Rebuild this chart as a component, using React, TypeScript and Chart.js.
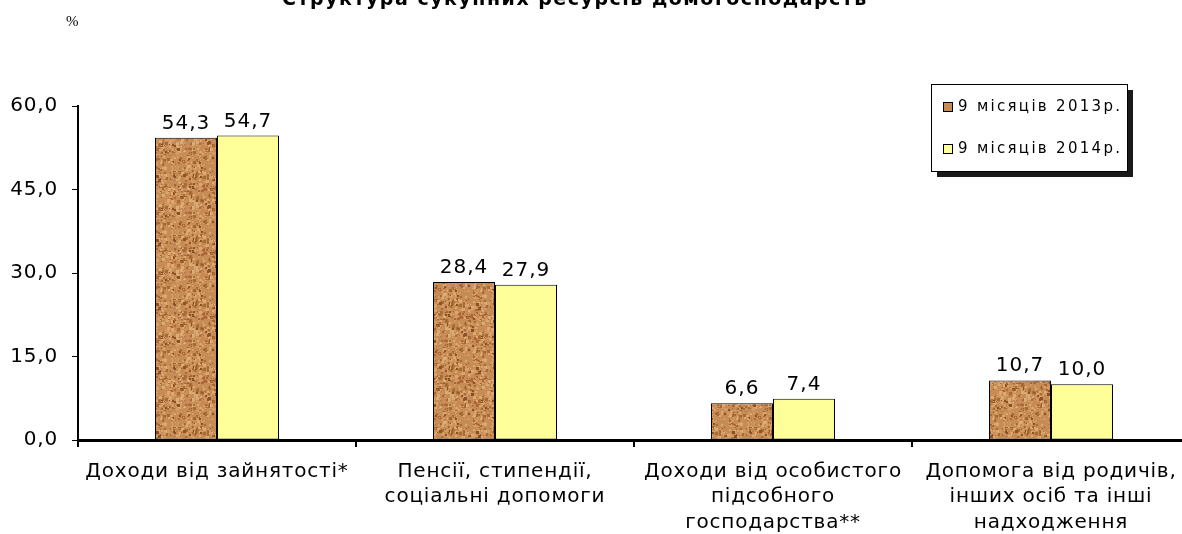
import React, { useEffect, useRef } from 'react';
import { Chart, registerables } from 'chart.js';

Chart.register(...registerables);

const categories: string[][] = [
  ['Доходи від зайнятості*'],
  ['Пенсії, стипендії,', 'соціальні допомоги'],
  ['Доходи від особистого', 'підсобного', 'господарства**'],
  ['Допомога від родичів,', 'інших осіб та інші', 'надходження'],
];
const series2013 = [54.3, 28.4, 6.6, 10.7];
const series2014 = [54.7, 27.9, 7.4, 10.0];
const seriesLabels = ['9 місяців 2013р.', '9 місяців 2014р.'];
const yTicks = [0, 15, 30, 45, 60];
const titleText = 'Структура сукупних ресурсів домогосподарств';
const unitText = '%';

const FONT = '"DejaVu Sans", Verdana, sans-serif';
const fmt = (v: number) => v.toFixed(1).replace('.', ',');

function makeTexture(): CanvasPattern | string {
  const c = document.createElement('canvas');
  c.width = 64;
  c.height = 64;
  const g = c.getContext('2d');
  if (!g) return '#C68C55';
  g.fillStyle = '#C68C55';
  g.fillRect(0, 0, 64, 64);
  let s = 12345;
  const rnd = () => {
    s = (s * 1103515245 + 12345) & 0x7fffffff;
    return s / 0x7fffffff;
  };
  for (let i = 0; i < 700; i++) {
    const x = Math.floor(rnd() * 64);
    const y = Math.floor(rnd() * 64);
    const r = rnd();
    if (r < 0.3) g.fillStyle = '#A96937';
    else if (r < 0.42) g.fillStyle = '#8C5026';
    else if (r < 0.75) g.fillStyle = '#DDAA74';
    else g.fillStyle = '#D49A62';
    const sz = rnd() < 0.4 ? 1 : rnd() < 0.7 ? 2 : 3;
    g.fillRect(x, y, sz, sz);
  }
  const p = g.createPattern(c, 'repeat');
  return p || '#C68C55';
}

const spacingPlugin = {
  id: 'spacing',
  beforeDraw(chart: any) {
    (chart.ctx as any).letterSpacing = '0.8px';
  },
};

const overlayPlugin = {
  id: 'overlay',
  afterDatasetsDraw(chart: any) {
    const ctx = chart.ctx as any;
    ctx.save();
    ctx.letterSpacing = '1px';
    ctx.fillStyle = '#000';
    ctx.font = `20px ${FONT}`;
    ctx.textAlign = 'center';
    ctx.textBaseline = 'alphabetic';
    chart.data.datasets.forEach((ds: any, di: number) => {
      const meta = chart.getDatasetMeta(di);
      meta.data.forEach((el: any, i: number) => {
        ctx.fillText(fmt(ds.data[i]), el.x, el.y - 9);
      });
    });
    ctx.restore();
  },
  afterDraw(chart: any) {
    const ctx = chart.ctx as any;
    ctx.save();
    // title (cut at top)
    ctx.letterSpacing = '1.5px';
    ctx.fillStyle = '#000';
    ctx.font = `bold 19px ${FONT}`;
    ctx.textAlign = 'center';
    ctx.textBaseline = 'alphabetic';
    ctx.fillText(titleText, 575, 5);
    // unit
    ctx.letterSpacing = '0px';
    ctx.font = '15px "Liberation Serif", "Times New Roman", serif';
    ctx.textAlign = 'left';
    ctx.textBaseline = 'middle';
    ctx.fillText(unitText, 66, 22);
    // legend
    const lx = 931, ly = 84, lw = 196, lh = 87;
    ctx.fillStyle = '#1a1a1a';
    ctx.fillRect(lx + 6, ly + 6, lw, lh);
    ctx.fillStyle = '#fff';
    ctx.fillRect(lx, ly, lw, lh);
    ctx.strokeStyle = '#000';
    ctx.lineWidth = 1;
    ctx.strokeRect(lx + 0.5, ly + 0.5, lw, lh);
    const ys = [107, 149];
    const fills = ['#C68C55', chart.data.datasets[1].backgroundColor];
    ctx.letterSpacing = '2.3px';
    ctx.font = `15px ${FONT}`;
    ctx.textBaseline = 'middle';
    seriesLabels.forEach((t, i) => {
      ctx.fillStyle = fills[i];
      ctx.fillRect(943, ys[i] - 5, 10, 10);
      ctx.strokeStyle = '#000';
      ctx.strokeRect(943.5, ys[i] - 4.5, 9, 9);
      ctx.fillStyle = '#000';
      ctx.fillText(t, 958, ys[i]);
    });
    ctx.restore();
  },
};

export default function App() {
  const ref = useRef<HTMLCanvasElement | null>(null);
  useEffect(() => {
    if (!ref.current) return;
    const texture = makeTexture();
    const chart = new Chart(ref.current, {
      type: 'bar',
      data: {
        labels: categories,
        datasets: [
          {
            label: seriesLabels[0],
            data: series2013,
            backgroundColor: texture as any,
            borderColor: '#000',
            borderWidth: 1,
            borderSkipped: false,
            categoryPercentage: 0.446,
            barPercentage: 1,
          },
          {
            label: seriesLabels[1],
            data: series2014,
            backgroundColor: '#FFFF99',
            borderColor: '#000',
            borderWidth: 1,
            borderSkipped: false,
            categoryPercentage: 0.446,
            barPercentage: 1,
          },
        ],
      },
      options: {
        responsive: false,
        animation: false,
        layout: { padding: { left: 0, right: 10, top: 106, bottom: 0 } },
        plugins: {
          legend: { display: false },
          title: { display: false },
          tooltip: { enabled: false },
        },
        scales: {
          x: {
            offset: true,
            grid: {
              display: true,
              offset: true,
              drawOnChartArea: false,
              drawTicks: true,
              tickLength: 7,
              color: '#000',
              lineWidth: 2,
            },
            border: { display: true, color: '#000', width: 3 },
            ticks: {
              color: '#000',
              font: { family: FONT, size: 20, lineHeight: 1.27 },
              padding: 12,
              maxRotation: 0,
              autoSkip: false,
            },
            afterFit: (s: any) => {
              s.height = 94;
            },
          },
          y: {
            min: 0,
            max: 60,
            afterBuildTicks: (s: any) => {
              s.ticks = yTicks.map((v) => ({ value: v }));
            },
            grid: {
              display: true,
              drawOnChartArea: false,
              drawTicks: true,
              tickLength: 6,
              color: '#000',
              lineWidth: 1,
            },
            border: { display: true, color: '#000', width: 2 },
            ticks: {
              color: '#000',
              font: { family: FONT, size: 20 },
              padding: 14,
              callback: (v: any) => fmt(Number(v)),
            },
            afterFit: (s: any) => {
              s.width = 78;
            },
          },
        },
      },
      plugins: [spacingPlugin, overlayPlugin],
    });
    return () => chart.destroy();
  }, []);
  return (
    <div
      style={{
        position: 'fixed',
        left: 0,
        top: 0,
        width: 1182,
        height: 534,
        overflow: 'hidden',
        background: '#fff',
      }}
    >
      <canvas ref={ref} width={1200} height={534} style={{ display: 'block', width: 1200, height: 534 }} />
    </div>
  );
}
